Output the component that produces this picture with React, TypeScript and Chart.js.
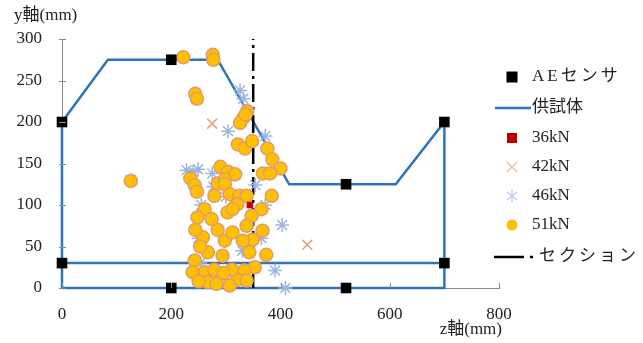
import React, { useEffect, useRef } from "react";
import { Chart, registerables } from "chart.js";

Chart.register(...registerables);

// ---- data (z mm, y mm) ----
const sensorPoints: [number, number][] = [
  [0, 200], [200, 275], [0, 30], [200, 0], [520, 125], [520, 0], [700, 200], [700, 30],
];
const specimenOutline: [number, number][] = [
  [0, 0], [0, 200], [84, 275], [285, 275], [416, 125], [611, 125], [700, 200], [700, 0], [0, 0],
];
const specimenInner: [number, number][] = [[0, 30], [700, 30]];
const load36kN: [number, number][] = [[344, 100]];
const load42kN: [number, number][] = [[275, 198], [449, 52]];
const load46kN: [number, number][] = [
  [326, 238], [332, 228], [304, 189], [372, 183], [249, 143], [275, 138], [403, 76], [390, 21],
  [409, 0], [277, 122], [354, 124], [372, 100], [300, 110], [255, 100], [330, 45], [290, 10],
  [365, 60], [250, 60], [253, 30], [126, 130], [240, 140], [228, 142],
];
const load51kN: [number, number][] = [
  [222, 278], [276, 281], [277, 275], [244, 234], [247, 228],
  [339, 213], [332, 205], [326, 199], [336, 209],
  [322, 173], [335, 168], [348, 177], [376, 168], [385, 155], [400, 144], [368, 138], [381, 138],
  [290, 146], [304, 140], [317, 137], [235, 132], [285, 126], [298, 131],
  [126, 129],
  [243, 124], [247, 116], [298, 125], [307, 113], [325, 111], [338, 111], [321, 101], [384, 111],
  [365, 95], [347, 87], [338, 75], [367, 69], [349, 58], [331, 57], [343, 43], [374, 40],
  [353, 25], [334, 21], [321, 10], [307, 3], [338, 9],
  [261, 95], [248, 85], [274, 83], [285, 70], [258, 61], [298, 57], [312, 67], [303, 91],
  [267, 43], [294, 39], [243, 33], [261, 19], [279, 22], [239, 19], [267, 7], [311, 22],
  [312, 95], [279, 111], [244, 70], [253, 50], [250, 8], [283, 5], [296, 18],
];
const sectionLine: [number, number][] = [[350, 0], [350, 300]];

const xTicks = [0, 200, 400, 600, 800];
const yTicks = [0, 50, 100, 150, 200, 250, 300];
const legendLabels = ["AEセンサ", "供試体", "36kN", "42kN", "46kN", "51kN", "セクション"];
const yTitle = "y軸(mm)";
const xTitle = "z軸(mm)";

const BLUE = "#2E75B6";
const SERIF = '"Liberation Serif", "Noto Sans CJK JP", serif';

const toXY = (a: [number, number][]) => a.map(([x, y]) => ({ x, y }));

const overlayPlugin = {
  id: "overlay",
  afterDraw(chart: any) {
    const ctx: CanvasRenderingContext2D = chart.ctx;
    const xs = chart.scales.x;
    const ys = chart.scales.y;
    const area = chart.chartArea;
    ctx.save();
    // inside tick marks
    ctx.strokeStyle = "#8a8a8a";
    ctx.lineWidth = 1;
    xTicks.forEach((v) => {
      const px = Math.round(xs.getPixelForValue(v)) + 0.5;
      ctx.beginPath();
      ctx.moveTo(px, area.bottom);
      ctx.lineTo(px, area.bottom - 5);
      ctx.stroke();
    });
    yTicks.forEach((v) => {
      const py = Math.round(ys.getPixelForValue(v)) + 0.5;
      ctx.beginPath();
      ctx.moveTo(area.left - 3, py);
      ctx.lineTo(area.left + 4, py);
      ctx.stroke();
    });
    // axis titles
    ctx.fillStyle = "#222";
    ctx.font = `17px ${SERIF}`;
    ctx.textBaseline = "middle";
    ctx.textAlign = "left";
    ctx.fillText(yTitle, 14, 16);
    ctx.textAlign = "right";
    ctx.fillText(xTitle, 502, 330);

    // legend
    const mx = 512;
    const tx = 532;
    const ly = [77, 108, 138, 167, 196, 225, 257];
    ctx.textAlign = "left";
    ctx.font = `17px ${SERIF}`;
    // AE sensor
    ctx.fillStyle = "#000";
    ctx.fillRect(mx - 5.5, ly[0] - 5.5, 11, 11);
    // specimen line
    ctx.strokeStyle = BLUE;
    ctx.lineWidth = 2.5;
    ctx.beginPath();
    ctx.moveTo(495, ly[1]);
    ctx.lineTo(531, ly[1]);
    ctx.stroke();
    // 36kN
    ctx.fillStyle = "#C00000";
    ctx.fillRect(mx - 5, ly[2] - 5, 10, 10);
    // 42kN
    ctx.strokeStyle = "#EDC3A6";
    ctx.lineWidth = 1.5;
    ctx.beginPath();
    ctx.moveTo(mx - 5, ly[3] - 5);
    ctx.lineTo(mx + 5, ly[3] + 5);
    ctx.moveTo(mx + 5, ly[3] - 5);
    ctx.lineTo(mx - 5, ly[3] + 5);
    ctx.stroke();
    // 46kN
    ctx.strokeStyle = "#BFD0EC";
    ctx.beginPath();
    ctx.moveTo(mx, ly[4] - 6);
    ctx.lineTo(mx, ly[4] + 6);
    ctx.moveTo(mx - 5, ly[4] - 4);
    ctx.lineTo(mx + 5, ly[4] + 4);
    ctx.moveTo(mx + 5, ly[4] - 4);
    ctx.lineTo(mx - 5, ly[4] + 4);
    ctx.stroke();
    // 51kN
    ctx.fillStyle = "#FFC000";
    ctx.beginPath();
    ctx.arc(mx, ly[5], 5.5, 0, Math.PI * 2);
    ctx.fill();
    // section
    ctx.strokeStyle = "#000";
    ctx.lineWidth = 2.5;
    ctx.beginPath();
    ctx.moveTo(494, ly[6]);
    ctx.lineTo(524, ly[6]);
    ctx.moveTo(530, ly[6]);
    ctx.lineTo(533, ly[6]);
    ctx.stroke();

    ctx.fillStyle = "#222";
    const textX = [tx, tx, tx, tx, tx, tx, 539];
    legendLabels.forEach((t, i) => {
      (ctx as any).letterSpacing = i === 0 || i === 6 ? "3px" : "0px";
      ctx.fillText(t, textX[i], ly[i]);
    });
    (ctx as any).letterSpacing = "0px";
    ctx.restore();
  },
};

export default function App() {
  const ref = useRef<HTMLCanvasElement | null>(null);
  useEffect(() => {
    if (!ref.current) return;
    const chart = new Chart(ref.current, {
      type: "scatter",
      data: {
        datasets: [
          {
            label: legendLabels[0],
            data: toXY(sensorPoints),
            pointStyle: "rect",
            pointRadius: 7.5,
            backgroundColor: "#000",
            borderColor: "#000",
            borderWidth: 0,
            clip: false,
            order: 0,
          },
          {
            label: legendLabels[1],
            data: toXY(specimenOutline),
            showLine: true,
            borderColor: BLUE,
            borderWidth: 2.5,
            pointRadius: 0,
            clip: false,
            order: 10,
          },
          {
            label: legendLabels[1] + "2",
            data: toXY(specimenInner),
            showLine: true,
            borderColor: BLUE,
            borderWidth: 2.5,
            pointRadius: 0,
            clip: false,
            order: 10,
          },
          {
            label: legendLabels[2],
            data: toXY(load36kN),
            pointStyle: "rect",
            pointRadius: 4,
            backgroundColor: "#C00000",
            borderColor: "#C00000",
            order: 1,
          },
          {
            label: legendLabels[3],
            data: toXY(load42kN),
            pointStyle: "crossRot",
            pointRadius: 7,
            borderWidth: 1.5,
            borderColor: "#E3A27A",
            order: 5,
          },
          {
            label: legendLabels[4],
            data: toXY(load46kN),
            pointStyle: "star",
            pointRadius: 7,
            borderWidth: 1.5,
            borderColor: "#9DB6E0",
            clip: false,
            order: 4,
          },
          {
            label: legendLabels[5],
            data: toXY(load51kN),
            pointStyle: "circle",
            pointRadius: 6.5,
            borderWidth: 1.5,
            backgroundColor: "#FFC000",
            borderColor: "#E09C6A",
            clip: false,
            order: 3,
          },
          {
            label: legendLabels[6],
            data: toXY(sectionLine),
            showLine: true,
            borderColor: "#000",
            borderWidth: 2.5,
            borderDash: [18, 5, 3, 5],
            pointRadius: 0,
            order: 9,
          },
        ],
      },
      options: {
        responsive: false,
        animation: false,
        layout: { padding: { top: 39, left: 0, right: 144, bottom: 0 } },
        plugins: { legend: { display: false }, tooltip: { enabled: false } },
        scales: {
          x: {
            type: "linear",
            min: 0,
            max: 800,
            afterFit: (s: any) => {
              s.height = 55;
            },
            afterBuildTicks: (s: any) => {
              s.ticks = xTicks.map((v) => ({ value: v }));
            },
            grid: { display: true, drawOnChartArea: false, drawTicks: false },
            border: { display: true, color: "#8a8a8a", width: 1 },
            ticks: {
              padding: 16,
              color: "#222",
              font: { family: SERIF, size: 17 },
              maxRotation: 0,
            },
          },
          y: {
            type: "linear",
            min: 0,
            max: 300,
            afterFit: (s: any) => {
              s.width = 62;
            },
            afterBuildTicks: (s: any) => {
              s.ticks = yTicks.map((v) => ({ value: v }));
            },
            grid: { display: true, drawOnChartArea: false, drawTicks: false },
            border: { display: true, color: "#8a8a8a", width: 1 },
            ticks: {
              padding: 20,
              color: "#222",
              font: { family: SERIF, size: 17 },
            },
          },
        },
      },
      plugins: [overlayPlugin],
    });
    return () => chart.destroy();
  }, []);
  return (
    <div style={{ position: "fixed", left: 0, top: 0, width: 643, height: 343, background: "#fff" }}>
      <canvas ref={ref} width={643} height={343} style={{ width: 643, height: 343 }} />
    </div>
  );
}
